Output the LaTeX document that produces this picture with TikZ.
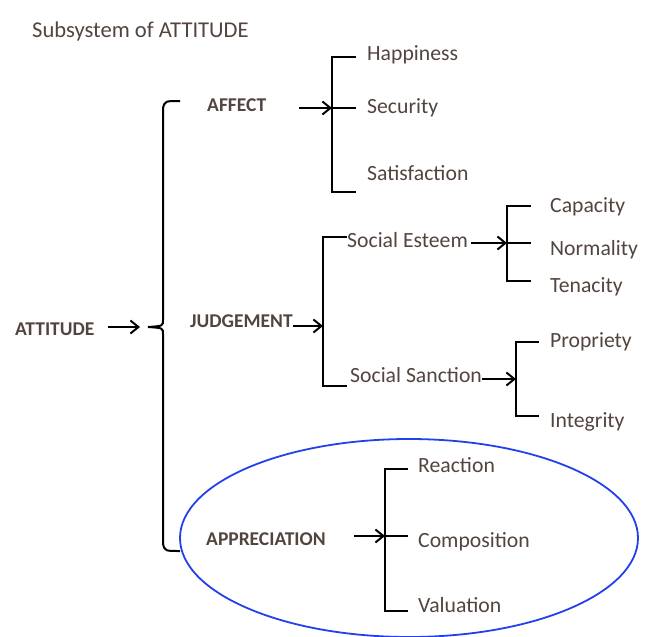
\documentclass[tikz,border=0pt]{standalone}
\usepackage{fontspec}
\setmainfont{Carlito}
\usetikzlibrary{arrows.meta}
\definecolor{txt}{RGB}{82,68,62}
\definecolor{ring}{RGB}{35,65,235}
\begin{document}
\begin{tikzpicture}[x=1pt,y=-1pt,
  lab/.style={anchor=base west, inner sep=0pt, text=txt, font=\fontsize{21.7}{25}\selectfont},
  cat/.style={anchor=base west, inner sep=0pt, text=txt, font=\fontsize{19.5}{23}\selectfont\bfseries},
  brk/.style={line width=2pt},
  arr/.style={line width=2pt, -{Straight Barb[length=8pt,width=13pt,line width=2pt]}}]
\useasboundingbox (0,0) rectangle (659,637);
\node[lab, font=\fontsize{22.6}{26}\selectfont] (title) at (32,37) {Subsystem of ATTITUDE};

\node[cat] (att) at (15,335) {ATTITUDE};
\coordinate (bin) at (140,327);
\draw[arr, shorten <=13pt](bin -| att.east) -- (bin);
\draw[brk] (180,101) .. controls (165,101) .. (163,108) -- (163,320) .. controls (163,326) .. (148,327)
  .. controls (163,328) .. (163,334) -- (163,544) .. controls (165,551) .. (180,551);

\node[cat] (aff) at (207,111) {AFFECT};
\coordinate (afm) at (332,108);
\draw[arr, shorten <=33pt](afm -| aff.east) -- (afm);
\draw[brk] (356,57) -| (332,192) -- (356,192);
\draw[brk] (afm) -- (356,108);
\node[lab] (hap) at (367,60) {Happiness};
\node[lab] (sec) at (367,113) {Security};
\node[lab] (sat) at (367,180) {Satisfaction};

\node[cat] (jud) at (190,327) {JUDGEMENT};
\coordinate (jm) at (323,326);
\draw[arr](jm -| jud.east) -- (jm);
\draw[brk] (347,237) -| (323,386) -- (347,386);
\node[lab] (est) at (347,247) {Social Esteem};
\coordinate (esm) at (507,243);
\draw[arr, shorten <=3pt](esm -| est.east) -- (esm);
\draw[brk] (531,206) -| (507,281) -- (531,281);
\draw[brk] (esm) -- (531,243);
\node[lab] (cap) at (550,212) {Capacity};
\node[lab] (nor) at (550,255) {Normality};
\node[lab] (ten) at (550,292) {Tenacity};
\node[lab] (san) at (350,382) {Social Sanction};
\coordinate (snm) at (516,379);
\draw[arr](snm -| san.east) -- (snm);
\draw[brk] (539,342) -| (516,416) -- (539,416);
\node[lab] (pro) at (550,347) {Propriety};
\node[lab] (int) at (550,427) {Integrity};

\draw[ring, line width=1.8pt] (409,538) ellipse [x radius=229, y radius=99];
\node[cat] (app) at (206,545) {APPRECIATION};
\coordinate (apm) at (385,536);
\draw[arr, shorten <=28pt](apm -| app.east) -- (apm);
\draw[brk] (408,469) -| (385,611) -- (408,611);
\draw[brk] (apm) -- (408,536);
\node[lab] (rea) at (418,472) {Reaction};
\node[lab] (com) at (418,547) {Composition};
\node[lab] (val) at (418,612) {Valuation};
\end{tikzpicture}
\end{document}
